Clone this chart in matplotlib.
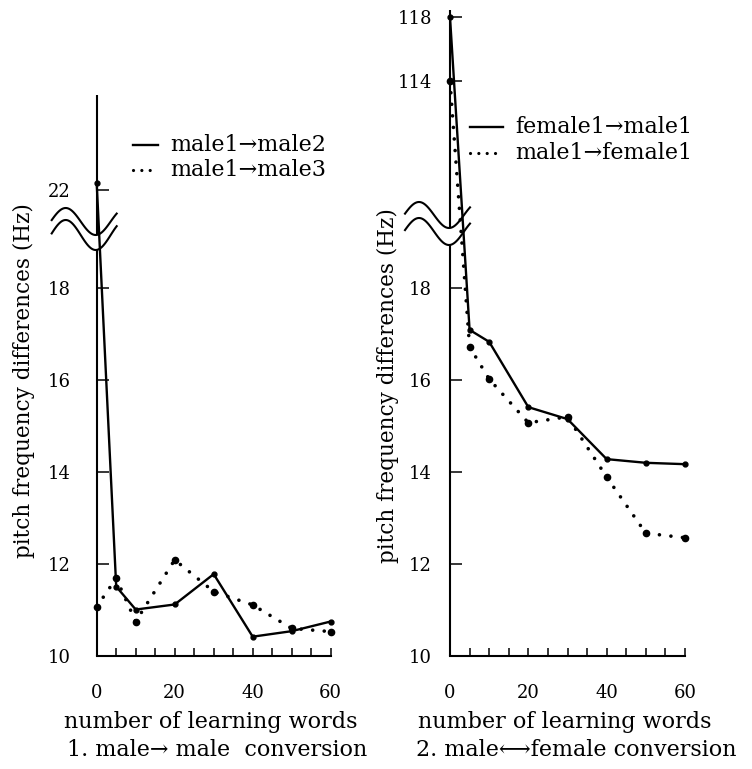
import numpy as np
import matplotlib
matplotlib.use("Agg")
import matplotlib.pyplot as plt
from matplotlib.lines import Line2D
from matplotlib.ticker import FixedLocator, NullFormatter

plt.rcParams['font.family'] = ['DejaVu Serif', 'DejaVu Sans']

# ---- data -------------------------------------------------------------
words = [0, 5, 10, 20, 30, 40, 50, 60]

# 1. male -> male conversion
male1_male2 = [22.15, 11.51, 11.01, 11.12, 11.78, 10.42, 10.54, 10.75]
male1_male3 = [11.07, 11.69, 10.75, 12.09, 11.40, 11.11, 10.60, 10.53]

# 2. male <-> female conversion
female1_male1 = [118.0, 17.09, 16.83, 15.41, 15.15, 14.28, 14.20, 14.17]
male1_female1 = [114.0, 16.72, 16.02, 15.07, 15.20, 13.89, 12.67, 12.57]

left_yticks = [10, 12, 14, 16, 18, 22]
right_yticks = [10, 12, 14, 16, 18, 114, 118]
xticks_major = [0, 20, 40, 60]
xticks_minor = list(range(0, 61, 5))

left_labels = ["male1\u2192male2", "male1\u2192male3"]
right_labels = ["female1\u2192male1", "male1\u2192female1"]

# ---- broken y scales (value -> display units, piecewise linear) ------
# lower part is 1:1, the gap is squeezed, the upper part has its own slope
left_vk = [0.0, 18.83, 21.02, 40.0]
left_uk = [0.0, 18.83, 19.15, 38.13]
right_vk = [0.0, 18.93, 104.81, 200.0]
right_uk = [0.0, 18.93, 19.30, 52.41]


def piecewise(vk, uk):
    vk = np.asarray(vk)
    uk = np.asarray(uk)

    def fwd(v):
        return np.interp(v, vk, uk)

    def inv(u):
        return np.interp(u, uk, vk)

    return fwd, inv


W, H = 752, 769
fig = plt.figure(figsize=(W / 100, H / 100), dpi=100)
fig.patch.set_facecolor('white')


def fx(px):
    return px / W


def fy(py):
    return 1 - py / H


PX_PER_UNIT = 46.0
BASE_PY = 656.0
TOP_PY = 8.0
U_TOP = 10 + (BASE_PY - TOP_PY) / PX_PER_UNIT

SOLID = dict(color='k', lw=1.7)
DOTTED = dict(color='k', lw=2.6, linestyle=(0, (0.01, 3.2)), dash_capstyle='round')


def u_at(py):
    return 10 + (BASE_PY - py) / PX_PER_UNIT


def make_panel(x0, x1, vk, uk, yticks, ypad, lower_top_py, upper_bot_py, upper_top_py):
    ax = fig.add_axes([fx(x0), fy(BASE_PY), (x1 - x0) / W, (BASE_PY - TOP_PY) / H])
    fwd, inv = piecewise(vk, uk)
    ax.set_yscale('function', functions=(fwd, inv))
    ax.set_xlim(0, 60)
    ax.set_ylim(10, float(inv(U_TOP)))
    ax.patch.set_alpha(0)
    for s in ('top', 'right', 'left'):
        ax.spines[s].set_visible(False)
    ax.spines['bottom'].set_linewidth(1.5)

    # broken vertical axis drawn as two pieces
    for a, b in ((BASE_PY, lower_top_py), (upper_bot_py, upper_top_py)):
        ax.plot([0, 0], [float(inv(u_at(a))), float(inv(u_at(b)))],
                color='k', lw=1.5, clip_on=False, solid_capstyle='butt')

    ax.yaxis.set_major_locator(FixedLocator(yticks))
    ax.yaxis.set_minor_locator(FixedLocator([]))
    ax.set_yticklabels([str(t) for t in yticks])
    ax.tick_params(axis='y', which='both', direction='in', length=8.6, width=1.1,
                   pad=ypad, labelsize=13)
    ax.xaxis.set_major_locator(FixedLocator(xticks_major))
    ax.xaxis.set_minor_locator(FixedLocator(xticks_minor))
    ax.xaxis.set_minor_formatter(NullFormatter())
    ax.tick_params(axis='x', which='both', direction='in', length=6, width=1.1,
                   pad=20, labelsize=13)
    return ax


def draw_series(ax, ys_solid, ys_dotted):
    ax.plot(words, ys_solid, marker='o', ms=3.5, clip_on=False, **SOLID)
    ax.plot(words, ys_dotted, marker='o', ms=4.5, clip_on=False, **DOTTED)


def wave(axis_px, yc, amp):
    xs = np.linspace(axis_px - 45, axis_px + 20, 80)
    ys = yc + amp * np.cos(2 * np.pi * (xs - (axis_px - 1)) / 60.0)
    fig.add_artist(Line2D(fx(xs), fy(ys), color='k', lw=1.5, transform=fig.transFigure))


def key(labels, x0, x1, text_x, rows):
    styles = [SOLID, dict(DOTTED, lw=2.3, linestyle=(0, (0.01, 2.6)))]
    for lab, st, y in zip(labels, styles, rows):
        fig.add_artist(Line2D([fx(x0), fx(x1)], [fy(y), fy(y)],
                              transform=fig.transFigure, **st))
        fig.text(fx(text_x), fy(y), lab, ha='left', va='center', fontsize=16)


# ---- left panel -------------------------------------------------------
ax1 = make_panel(96.7, 330.7, left_vk, left_uk, left_yticks, 19,
                 lower_top_py=250, upper_bot_py=235, upper_top_py=95)
draw_series(ax1, male1_male2, male1_male3)
key(left_labels, 133, 158, 170, (145, 170))
wave(96.7, 221.5, 13.5)
wave(96.7, 235.0, 15.0)

# ---- right panel ------------------------------------------------------
ax2 = make_panel(450, 685, right_vk, right_uk, right_yticks, 13,
                 lower_top_py=245, upper_bot_py=228, upper_top_py=10)
draw_series(ax2, female1_male1, male1_female1)
key(right_labels, 470, 503, 515, (127, 153))
wave(450, 215.0, 13.0)
wave(450, 231.5, 13.5)

# ---- axis titles and captions -----------------------------------------
ylab = "pitch frequency differences (Hz)"
fig.text(fx(24), fy(381), ylab, rotation=90, ha='center', va='center', fontsize=15.5)
fig.text(fx(388), fy(386), ylab, rotation=90, ha='center', va='center', fontsize=15.5)

fig.text(fx(211), fy(722), "number of learning words", ha='center', va='center', fontsize=16)
fig.text(fx(217), fy(750), "1. male\u2192 male  conversion", ha='center', va='center', fontsize=16)
fig.text(fx(565), fy(722), "number of learning words", ha='center', va='center', fontsize=16)
fig.text(fx(576), fy(750), "2. male\u27f7female conversion", ha='center', va='center', fontsize=16)

fig.savefig("out.png", dpi=100, facecolor='white')
